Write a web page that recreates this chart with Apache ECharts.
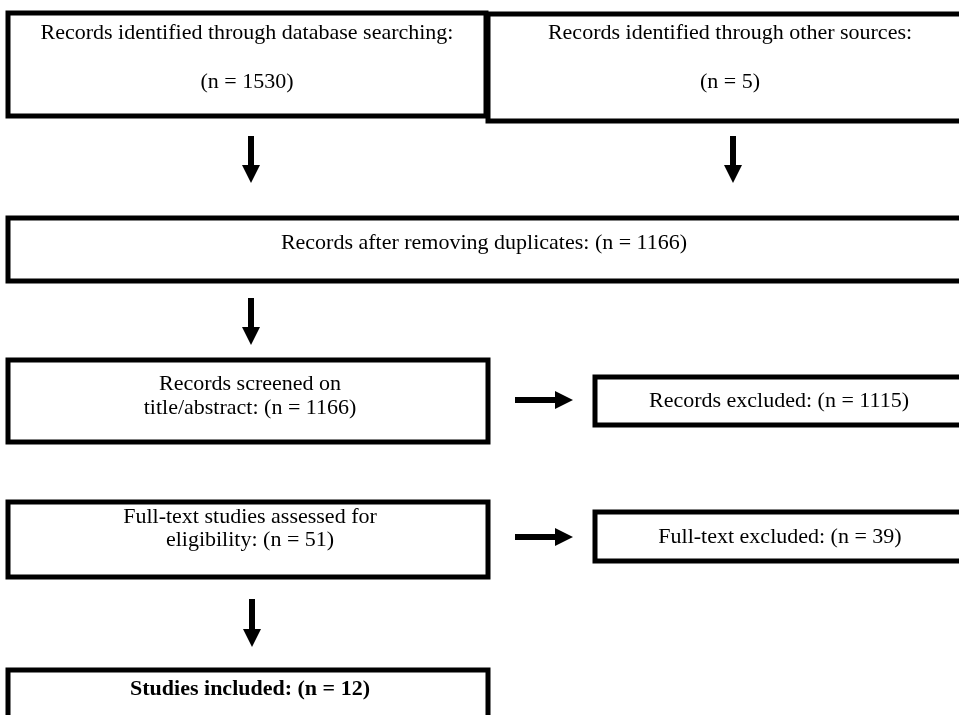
<!DOCTYPE html>
<html>
<head>
<meta charset="utf-8">
<script src="https://cdn.jsdelivr.net/npm/echarts@6/dist/echarts.min.js"></script>
<style>
html,body{margin:0;padding:0;background:#fff;}
#chart{width:959px;height:715px;}
</style>
</head>
<body>
<div id="chart"></div>
<script>
// ---- data ----
const stageTitles = [
  'Records identified through database searching:',
  'Records identified through other sources:',
  'Records after removing duplicates:',
  'Records screened on title/abstract:',
  'Records excluded:',
  'Full-text studies assessed for eligibility:',
  'Full-text excluded:',
  'Studies included:'
];
const stageCounts = [1530, 5, 1166, 1166, 1115, 51, 39, 12];

// flows between stages: [from, to]
const flows = [[0, 2], [1, 2], [2, 3], [3, 4], [5, 6], [5, 7]];

// ---- layout (pixel space of hidden value axes) ----
const boxLayout = [
  {x0: 8,   y0: 13,  x1: 486, y1: 116, tx: 247, lines: [33, 82], split: 'count'},
  {x0: 488, y0: 14,  x1: 972, y1: 121, tx: 730, lines: [33, 82], split: 'count'},
  {x0: 8,   y0: 218, x1: 962, y1: 281, tx: 484, lines: [243], split: 'none'},
  {x0: 8,   y0: 360, x1: 488, y1: 442, tx: 250, lines: [384, 408], split: 'on'},
  {x0: 595, y0: 377, x1: 962, y1: 425, tx: 779, lines: [401], split: 'none'},
  {x0: 8,   y0: 502, x1: 488, y1: 577, tx: 250, lines: [517, 540], split: 'for'},
  {x0: 595, y0: 512, x1: 962, y1: 561, tx: 780, lines: [537], split: 'none'},
  {x0: 8,   y0: 670, x1: 488, y1: 740, tx: 250, lines: [689], split: 'none', bold: true}
];
const arrowLayout = [
  {dir: 'v', x: 251, a: 136, b: 183},
  {dir: 'v', x: 733, a: 136, b: 183},
  {dir: 'v', x: 251, a: 298, b: 345},
  {dir: 'h', y: 400, a: 515, b: 573},
  {dir: 'h', y: 537, a: 515, b: 573},
  {dir: 'v', x: 252, a: 599, b: 647}
];

function boxLines(i) {
  const t = stageTitles[i], n = '(n = ' + stageCounts[i] + ')';
  const s = boxLayout[i].split;
  if (s === 'count') return [t, n];
  if (s === 'on') return ['Records screened on', 'title/abstract: ' + n];
  if (s === 'for') return ['Full-text studies assessed for', 'eligibility: ' + n];
  return [t + ' ' + n];
}

const boxData = boxLayout.map((b, i) => [b.x0, b.y0, b.x1, b.y1, i]);
const arrowData = flows.map((f, i) => {
  const a = arrowLayout[i];
  return a.dir === 'v' ? [a.x, a.a, a.x, a.b, i] : [a.a, a.y, a.b, a.y, i];
});

const FONT = '"Liberation Serif","Times New Roman",serif';

const chart = echarts.init(document.getElementById('chart'), null, {renderer: 'canvas'});
chart.setOption({
  animation: false,
  backgroundColor: '#fff',
  grid: {left: 0, right: 0, top: 0, bottom: 0},
  xAxis: {type: 'value', min: 0, max: 959, show: false},
  yAxis: {type: 'value', min: 0, max: 715, inverse: true, show: false},
  series: [
    {
      type: 'custom',
      clip: false,
      data: boxData,
      renderItem: function (params, api) {
        const i = api.value(4);
        const b = boxLayout[i];
        const p0 = api.coord([api.value(0), api.value(1)]);
        const p1 = api.coord([api.value(2), api.value(3)]);
        const cx = api.coord([b.tx, 0])[0];
        const children = [{
          type: 'rect',
          shape: {x: p0[0], y: p0[1], width: p1[0] - p0[0], height: p1[1] - p0[1]},
          style: {fill: '#fff', stroke: '#000', lineWidth: 5}
        }];
        const lines = boxLines(i);
        lines.forEach((txt, k) => {
          const py = api.coord([0, b.lines[k]])[1];
          children.push({
            type: 'text',
            style: {
              text: txt, x: cx, y: py,
              align: 'center', verticalAlign: 'middle',
              font: (b.bold ? 'bold ' : '') + '22px ' + FONT,
              fill: '#000'
            }
          });
        });
        return {type: 'group', children: children};
      }
    },
    {
      type: 'custom',
      clip: false,
      data: arrowData,
      renderItem: function (params, api) {
        const p0 = api.coord([api.value(0), api.value(1)]);
        const p1 = api.coord([api.value(2), api.value(3)]);
        const head = 18, hw = 9, sw = 3;
        let pts;
        if (Math.abs(p1[0] - p0[0]) < 1) {
          const x = p0[0], ya = p0[1], yb = p1[1], yh = yb - head;
          pts = [[x - sw, ya], [x + sw, ya], [x + sw, yh], [x + hw, yh], [x, yb], [x - hw, yh], [x - sw, yh]];
        } else {
          const y = p0[1], xa = p0[0], xb = p1[0], xh = xb - head;
          pts = [[xa, y - sw], [xh, y - sw], [xh, y - hw], [xb, y], [xh, y + hw], [xh, y + sw], [xa, y + sw]];
        }
        return {type: 'polygon', shape: {points: pts}, style: {fill: '#000'}};
      }
    }
  ]
});
</script>
</body>
</html>
